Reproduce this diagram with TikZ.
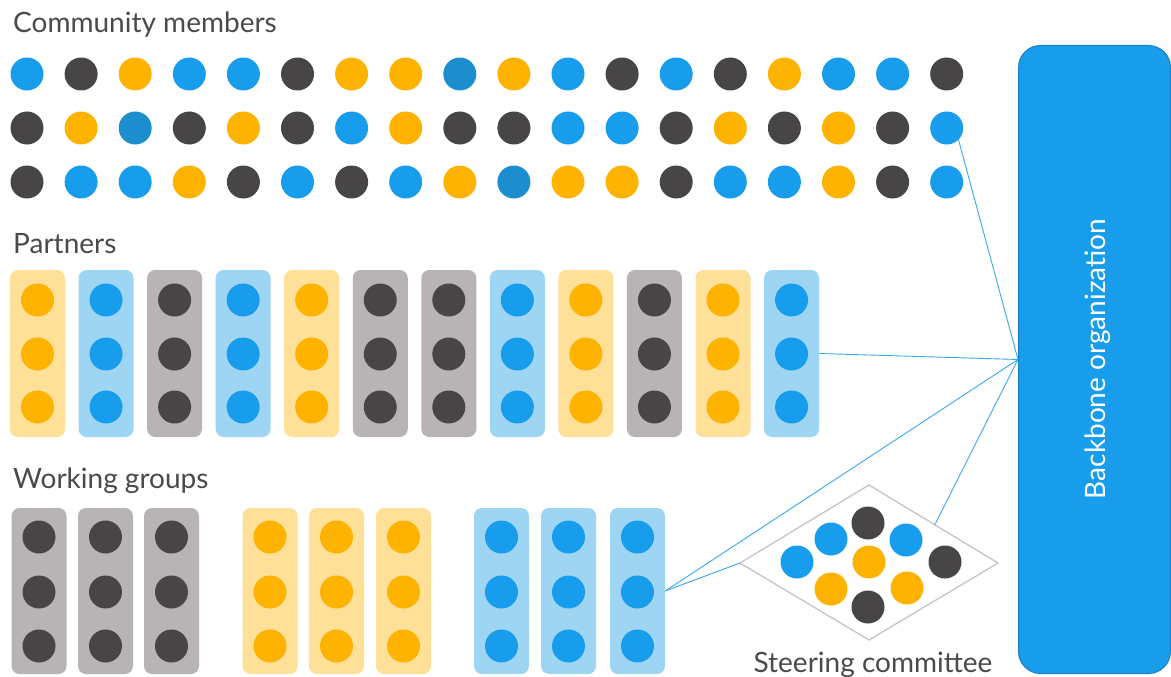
\documentclass[tikz,border=0pt]{standalone}
\usepackage{fontspec}
\setmainfont{Lato}
\usetikzlibrary{calc}
\definecolor{colB}{HTML}{179DEB}
\definecolor{colK}{HTML}{1C8ECE}
\definecolor{colD}{HTML}{484546}
\definecolor{colY}{HTML}{FDB300}
\definecolor{boxB}{HTML}{9ED5F3}
\definecolor{boxY}{HTML}{FEE099}
\definecolor{boxD}{HTML}{B8B4B5}
\definecolor{txt}{HTML}{4A4A4A}
\definecolor{lnblue}{HTML}{3AA8EE}
\definecolor{bbedge}{HTML}{1A7EC0}
\definecolor{dgray}{HTML}{C8C8C8}
\tikzset{
  dot/.style={circle, inner sep=0pt, minimum size=33pt, draw=none},
  grpbox/.style={rectangle, rounded corners=8pt, minimum width=55pt, minimum height=167pt, inner sep=0pt, draw=none},
  heading/.style={anchor=base west, inner sep=0pt, text=txt, font=\fontsize{28}{33}\selectfont},
  conn/.style={draw=lnblue, line width=0.9pt},
}
\begin{document}
\begin{tikzpicture}[x=1pt,y=-1pt]
\useasboundingbox (0,0) rectangle (1171,677);
\fill[white] (0,0) rectangle (1171,677);

% headings
\node[heading] (hcm) at (13,33) {Community members};
\node[heading] (hp) at (13,253) {Partners};
\node[heading] (hwg) at (13,488) {Working groups};

% community members
\foreach \c [count=\i] in {B,D,Y,B,B,D,Y,Y,K,Y,B,D,B,D,Y,B,B,D}
  \node[dot, fill=col\c] (c1-\i) at ({27+(\i-1)*54.1}, 74) {};
\foreach \c [count=\i] in {D,Y,K,D,Y,D,B,Y,D,D,B,B,D,Y,D,Y,D,B}
  \node[dot, fill=col\c] (c2-\i) at ({27+(\i-1)*54.1}, 128) {};
\foreach \c [count=\i] in {D,B,B,Y,D,B,D,B,Y,K,Y,Y,D,B,B,Y,D,B}
  \node[dot, fill=col\c] (c3-\i) at ({27+(\i-1)*54.1}, 182) {};

% partners
\foreach \c [count=\i] in {Y,B,D,B,Y,D,D,B,Y,D,Y,B} {
  \node[grpbox, fill=box\c] (p\i) at ({37.5+(\i-1)*68.55}, 353.5) {};
  \node[dot, fill=col\c] (p\i-a) at ({37.5+(\i-1)*68.55}, 300) {};
  \node[dot, fill=col\c] (p\i-b) at ({37.5+(\i-1)*68.55}, 354) {};
  \node[dot, fill=col\c] (p\i-c) at ({37.5+(\i-1)*68.55}, 407) {};
}

% working groups
\foreach \x/\c [count=\i] in {39/D,105.5/D,171.5/D,270/Y,336.5/Y,403.5/Y,501.5/B,568.5/B,637.5/B} {
  \node[grpbox, minimum height=166pt, fill=box\c] (w\i) at (\x, 591) {};
  \node[dot, fill=col\c] (w\i-a) at (\x, 537) {};
  \node[dot, fill=col\c] (w\i-b) at (\x, 592) {};
  \node[dot, fill=col\c] (w\i-c) at (\x, 646) {};
}

% backbone
\node[rectangle, rounded corners=22pt, fill=colB, draw=bbedge, line width=1pt,
      minimum width=152pt, minimum height=628pt, inner sep=0pt, anchor=north west] (bb) at (1018,45) {};
\node[rotate=90, text=white, font=\fontsize{28}{33}\selectfont] (bbt) at (1098,359) {Backbone organization};

% steering committee diamond
\coordinate (dl) at (740,563);
\coordinate (dt) at (869,485);
\coordinate (dr) at (998,563);
\coordinate (db) at (869,640);
\draw[dgray, line width=1.4pt, line join=miter] (dl) -- (dt) -- (dr) -- (db) -- cycle;
\coordinate (dedge) at ($(dt)!0.51!(dr)$);
\node[dot, fill=colD] (s1) at (868,523) {};
\node[dot, fill=colB] (s2) at (831,539) {};
\node[dot, fill=colB] (s3) at (906,540) {};
\node[dot, fill=colB] (s4) at (797,562) {};
\node[dot, fill=colY] (s5) at (869,562) {};
\node[dot, fill=colD] (s6) at (945,562) {};
\node[dot, fill=colY] (s7) at (831,589) {};
\node[dot, fill=colY] (s8) at (907,588) {};
\node[dot, fill=colD] (s9) at (868,607) {};
\node[anchor=base, inner sep=0pt, text=txt, font=\fontsize{28}{33}\selectfont] (sct) at (873,672) {Steering committee};

% connectors
\draw[conn] (c2-18.-45) -- (bb.west);
\draw[conn] (p12.east) -- (bb.west);
\draw[conn] (w9.east) -- (bb.west);
\draw[conn] (w9.east) -- (dl);
\draw[conn] (dedge) -- (bb.west);
\end{tikzpicture}
\end{document}
